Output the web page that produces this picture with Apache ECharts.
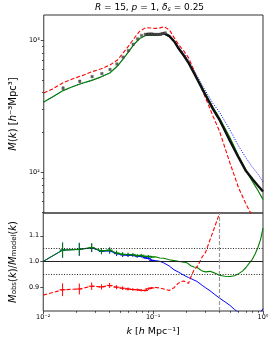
<!DOCTYPE html>
<html><head><meta charset="utf-8">
<script src="https://cdn.jsdelivr.net/npm/echarts@6/dist/echarts.min.js"></script>
<style>html,body{margin:0;padding:0;background:#fff}#c{width:274px;height:343px}</style>
</head><body><div id="c"></div>
<script>
// ---------- data ----------
const kModel = [0.01,0.012,0.015,0.018,0.022,0.027,0.033,0.04,0.047,0.053,0.06,0.067,0.075,0.085,0.095,0.105,0.115,0.125,0.14,0.155,0.17,0.19,0.21,0.235,0.26,0.3,0.35,0.4,0.5,0.6,0.7,0.8,0.9,1.0];
const mGreen = [339,370,414,441,468,493,524,562,635,718,825,933,1027,1082,1091,1085,1091,1110,1058,969,858,759,672,567,486,390,309,258,182,132,103,85,72.5,62];
const mRed   = [397,425,475,505,535,572,603,645,705,800,910,1035,1165,1240,1232,1225,1235,1263,1190,1040,920,824,730,585,478,362,265,205,117,75.6,57.2,46.4,null,null];
const mBlue  = [339,370,414,441,468,493,524,562,635,718,825,933,1027,1082,1091,1100,1106,1132,1085,995,885,790,700,590,505,410,330,285,208,157,128,109,96.6,84.4];
const mDataLine = [null,null,null,null,null,null,null,null,null,null,null,null,null,1104,1111,1103,1106,1125,1070,975,862,760,668,560,478,380,300,250,172,128.5,101.8,88.5,78.9,71.3];

const kData   = [0.0150,0.0213,0.0276,0.0339,0.0402,0.0465,0.0528,0.0591,0.0654,0.0717,0.0780,0.0843,0.0906,0.0969,0.1032,0.1095,0.1158,0.1221,0.1284];
const mData   = [432,487,528,557,598,658,742,831,928,1020,1082,1104,1109,1111,1103,1103,1106,1118,1131];
const errData = [0.028,0.024,0.016,0.011,0.011,0.009,0.008,0.007,0.006,0.006,0.005,0.005,0.005,0.004,0.004,0.004,0.004,0.003,0.003];

const kRatio = [0.01,0.015,0.0213,0.0276,0.0339,0.0402,0.0465,0.0528,0.0591,0.0654,0.0717,0.078,0.0843,0.0906,0.0969,0.105,0.115,0.125,0.14,0.155,0.17,0.18,0.19,0.2,0.21,0.22,0.235,0.25,0.26,0.28,0.3,0.33,0.36,0.4,0.45,0.5,0.55,0.6,0.65,0.7,0.75,0.8,0.85,0.9,0.95,1.0];
const rGreen = [1.000,1.044,1.047,1.054,1.041,1.044,1.033,1.028,1.027,1.026,1.022,1.024,1.019,1.020,1.017,1.018,1.013,1.012,1.006,1.003,1.000,0.999,0.997,0.996,0.990,0.983,0.978,0.977,0.974,0.962,0.959,0.961,0.955,0.946,0.942,0.941,0.944,0.952,0.962,0.976,0.993,1.008,1.030,1.055,1.085,1.130];
const rBlue  = [1.000,1.044,1.047,1.053,1.039,1.041,1.030,1.025,1.024,1.024,1.020,1.020,1.014,1.012,1.004,1.003,1.000,0.994,0.982,0.967,0.958,0.952,0.946,0.941,0.937,0.933,0.927,0.922,0.918,0.906,0.897,0.885,0.872,0.857,0.842,0.828,0.812,0.800,0.792,0.785,0.782,0.782,0.786,0.792,0.800,0.815];
const rRed   = [0.868,0.889,0.892,0.903,0.900,0.906,0.899,0.895,0.892,0.890,0.889,0.887,0.886,0.893,0.896,0.898,0.896,0.892,0.886,0.897,0.915,0.921,0.923,0.918,0.914,0.938,0.965,0.978,0.990,1.018,1.035,1.085,1.130,1.185,1.25,null,null,null,null,null,null,null,null,null,null,null];
const errRatio = [0,0.028,0.024,0.016,0.011,0.011,0.009,0.008,0.007,0.006,0.006,0.005,0.005,0.005,0.004,0,0,0,0,0,0,0,0,0,0,0,0,0,0,0,0,0,0,0,0,0,0,0,0,0,0,0,0,0,0,0];

const refLevels = [0.95, 1.0, 1.05];
const kCut = 0.4;

const xTickVals = [0.01, 0.1, 1];
const xTickLabels = ['10\u207b\u00b2', '10\u207b\u00b9', '10\u2070'];
const xMinorVals = [0.02,0.03,0.04,0.05,0.06,0.07,0.08,0.09,0.2,0.3,0.4,0.5,0.6,0.7,0.8,0.9];
const yTopTickVals = [100, 1000];
const yTopTickLabels = ['10\u00b2', '10\u00b3'];
const yTopMinorVals = [50,60,70,80,90,200,300,400,500,600,700,800,900];
const yBotTickVals = [0.9, 1.0, 1.1];

// ---------- chart ----------
const FONT = 'DejaVu Sans';
const C_RED = '#ff0000', C_GREEN = '#008000', C_BLUE = '#0000ff';
const pairs = (ks, vs) => ks.map((k, i) => [k, vs[i]]);

function errRender(color, half) {
  return function (params, api) {
    const k = api.value(0), v = api.value(1), e = api.value(2);
    const c = api.coord([k, v]);
    const t = api.coord([k, v + e]);
    const b = api.coord([k, v - e]);
    return { type: 'group', children: [
      { type: 'line', shape: { x1: c[0], y1: t[1], x2: c[0], y2: b[1] }, style: { stroke: color, lineWidth: 1 } },
      { type: 'line', shape: { x1: c[0] - half, y1: c[1], x2: c[0] + half, y2: c[1] }, style: { stroke: color, lineWidth: 1 } }
    ] };
  };
}
function ratioErr(vals) {
  const out = [];
  kRatio.forEach((k, i) => { if (errRatio[i] > 0 && vals[i] != null) out.push([k, vals[i], errRatio[i] * vals[i]]); });
  return out;
}

function makeRich(fs) {
  return {
    i: { fontStyle: 'italic', fontSize: fs, fontFamily: FONT },
    sub: { fontSize: fs * 0.7, fontFamily: FONT, verticalAlign: 'bottom', lineHeight: 7, padding: [3, 0, 0, 0] },
    subi: { fontSize: fs * 0.7, fontStyle: 'italic', fontFamily: FONT, verticalAlign: 'bottom', lineHeight: 7, padding: [3, 0, 0, 0] }
  };
}
const tickFont = { fontSize: 6.5, fontFamily: FONT, color: '#000' };
const tickLine = { color: '#222', width: 0.8 };

const option = {
  animation: false,
  backgroundColor: '#fff',
  grid: [
    { left: 36, top: 15, width: 227, height: 198, show: true, borderColor: '#333', borderWidth: 1 },
    { left: 36, top: 213, width: 227, height: 98, show: true, borderColor: '#333', borderWidth: 1 }
  ],
  graphic: [{
    type: 'text', x: 149.5, y: 8,
    style: { text: '{i|R} = 15, {i|p} = 1, {i|\u03b4}{subi|s} = 0.25', rich: makeRich(9), fontSize: 9, fontFamily: FONT, fill: '#000', align: 'center', verticalAlign: 'middle' }
  }],
  xAxis: [
    { gridIndex: 0, type: 'log', logBase: 10, min: 0.01, max: 1, position: 'bottom', axisLine: { show: false }, axisTick: { show: false }, axisLabel: { show: false }, splitLine: { show: false } },
    { gridIndex: 1, type: 'log', logBase: 10, min: 0.01, max: 1, position: 'bottom',
      axisLine: { show: false }, splitLine: { show: false },
      axisTick: { show: true, length: 3, lineStyle: tickLine, customValues: xTickVals },
      axisLabel: Object.assign({ show: true, margin: 3, customValues: xTickVals,
        formatter: v => xTickLabels[xTickVals.findIndex(t => Math.abs(Math.log10(t) - Math.log10(v)) < 1e-6)] }, tickFont),
      name: '{i|k} [{i|h} Mpc\u207b\u00b9]', nameLocation: 'middle', nameGap: 16,
      nameTextStyle: { fontSize: 9.5, fontFamily: FONT, color: '#000', rich: makeRich(9.5) } },
    { gridIndex: 1, type: 'log', logBase: 10, min: 0.01, max: 1, position: 'bottom', offset: 0,
      axisLine: { show: false }, splitLine: { show: false }, axisLabel: { show: false },
      axisTick: { show: true, length: 1.8, lineStyle: tickLine, customValues: xMinorVals } }
  ],
  yAxis: [
    { gridIndex: 0, type: 'log', logBase: 10, min: 49, max: 1546, position: 'left',
      axisLine: { show: false }, splitLine: { show: false },
      axisTick: { show: true, length: 3, lineStyle: tickLine, customValues: yTopTickVals },
      axisLabel: Object.assign({ show: true, margin: 4, customValues: yTopTickVals,
        formatter: v => yTopTickLabels[yTopTickVals.findIndex(t => Math.abs(t - v) / t < 1e-6)] }, tickFont),
      name: '{i|M}({i|k}) [{i|h}\u207b\u00b3Mpc\u00b3]', nameLocation: 'middle', nameGap: 19, nameRotate: 90,
      nameTextStyle: { fontSize: 10, fontFamily: FONT, color: '#000', rich: makeRich(10) } },
    { gridIndex: 0, type: 'log', logBase: 10, min: 49, max: 1546, position: 'left', offset: 0,
      axisLine: { show: false }, splitLine: { show: false }, axisLabel: { show: false },
      axisTick: { show: true, length: 1.8, lineStyle: tickLine, customValues: yTopMinorVals } },
    { gridIndex: 1, type: 'value', min: 0.806, max: 1.189, position: 'left',
      axisLine: { show: false }, splitLine: { show: false },
      axisTick: { show: true, length: 3, lineStyle: tickLine, customValues: yBotTickVals },
      axisLabel: Object.assign({ show: true, margin: 4, customValues: yBotTickVals, formatter: v => v.toFixed(1) }, tickFont),
      name: '{i|M}{sub|obs}({i|k})/{i|M}{sub|model}({i|k})', nameLocation: 'middle', nameGap: 19, nameRotate: 90,
      nameTextStyle: { fontSize: 10, fontFamily: FONT, color: '#000', rich: makeRich(10) } }
  ],
  series: [
    // top panel
    { type: 'line', xAxisIndex: 0, yAxisIndex: 0, data: pairs(kModel, mRed), symbol: 'none', z: 3,
      lineStyle: { color: C_RED, width: 1.1, type: [4, 2] } },
    { type: 'line', xAxisIndex: 0, yAxisIndex: 0, data: pairs(kModel, mBlue), symbol: 'none', z: 2,
      lineStyle: { color: C_BLUE, width: 1, type: [1, 1.5] } },
    { type: 'line', xAxisIndex: 0, yAxisIndex: 0, data: pairs(kModel, mGreen), symbol: 'none', z: 3,
      lineStyle: { color: C_GREEN, width: 1.2 } },
    { type: 'line', xAxisIndex: 0, yAxisIndex: 0, data: pairs(kModel, mDataLine), symbol: 'none', z: 4,
      lineStyle: { color: '#111', width: 2.4 } },
    { type: 'custom', xAxisIndex: 0, yAxisIndex: 0, z: 5,
      data: kData.map((k, i) => [k, mData[i], mData[i] * errData[i]]),
      renderItem: errRender('#333', 0) },
    { type: 'scatter', xAxisIndex: 0, yAxisIndex: 0, z: 6, data: pairs(kData, mData),
      symbol: 'rect', symbolSize: 2.5, itemStyle: { color: '#555', borderColor: '#333', borderWidth: 0.4 } },
    // bottom panel
    { type: 'line', xAxisIndex: 1, yAxisIndex: 2, data: pairs(kRatio, rBlue), symbol: 'none', z: 2,
      lineStyle: { color: C_BLUE, width: 1 },
      markLine: { silent: true, symbol: ['none', 'none'], label: { show: false }, animation: false,
        data: [
          { yAxis: refLevels[1], lineStyle: { color: '#222', type: 'solid', width: 1.1 } },
          { yAxis: refLevels[2], lineStyle: { color: '#222', type: [1, 1.6], width: 1 } },
          { yAxis: refLevels[0], lineStyle: { color: '#222', type: [1, 1.6], width: 1 } },
          { xAxis: kCut, lineStyle: { color: '#999', type: [4, 2], width: 1.2 } }
        ] } },
    { type: 'custom', xAxisIndex: 1, yAxisIndex: 2, z: 2, data: ratioErr(rBlue), renderItem: errRender(C_BLUE, 2.5) },
    { type: 'line', xAxisIndex: 1, yAxisIndex: 2, data: pairs(kRatio, rGreen), symbol: 'none', z: 3,
      lineStyle: { color: C_GREEN, width: 1.1 } },
    { type: 'custom', xAxisIndex: 1, yAxisIndex: 2, z: 3, data: ratioErr(rGreen), renderItem: errRender(C_GREEN, 3) },
    { type: 'line', xAxisIndex: 1, yAxisIndex: 2, data: pairs(kRatio, rRed), symbol: 'none', z: 3,
      lineStyle: { color: C_RED, width: 1.1, type: [4, 2] } },
    { type: 'custom', xAxisIndex: 1, yAxisIndex: 2, z: 3, data: ratioErr(rRed), renderItem: errRender(C_RED, 3) }
  ]
};
const chart = echarts.init(document.getElementById('c'));
chart.setOption(option);
</script>
</body></html>
